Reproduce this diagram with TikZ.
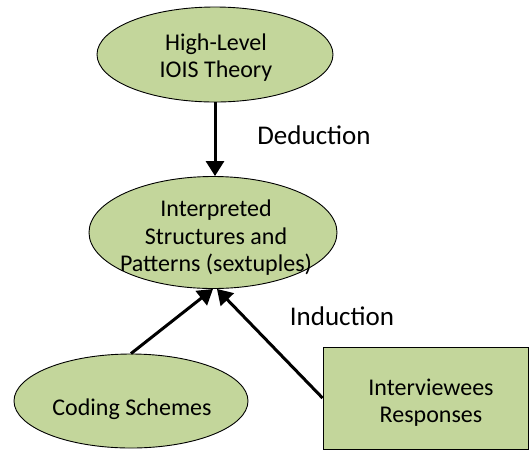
\documentclass[tikz,border=0pt]{standalone}
\usepackage{fontspec}
\setmainfont{Carlito}
\usetikzlibrary{shapes.geometric,arrows.meta}
\definecolor{leaf}{HTML}{C3D69B}
\tikzset{
  ell/.style={ellipse, draw=black, line width=0.9pt, fill=leaf, inner sep=0pt},
  boxnode/.style={rectangle, draw=black, line width=0.9pt, fill=leaf, inner sep=0pt},
  txt/.style={align=center, inner sep=0pt, font=\fontsize{24}{27.5}\selectfont},
  lab/.style={inner sep=0pt, font=\fontsize{27}{31}\selectfont},
  arr/.style={line width=3pt, -{Triangle[width=18pt,length=15pt]}}
}
\begin{document}
\begin{tikzpicture}[x=1pt,y=-1pt]
\useasboundingbox (0,0) rectangle (529,451);
\node[ell, minimum width=236pt, minimum height=95pt] (top) at (215,54.5) {};
\node[ell, minimum width=248pt, minimum height=112pt] (mid) at (213,232.5) {};
\node[ell, minimum width=234pt, minimum height=94pt] (cs) at (131,401) {};
\node[boxnode, minimum width=205pt, minimum height=102pt] (iv) at (425.5,398) {};
\node[txt] (toptxt) at (216,57.5) {High-Level\\IOIS Theory};
\node[txt] (midtxt) at (216,238) {Interpreted\\Structures and\\Patterns (sextuples)};
\node[txt] (cstxt) at (132,409.5) {Coding Schemes};
\node[txt] (ivtxt) at (431,402.5) {Interviewees\\Responses};
\node[lab, anchor=base] (ded) at (314,144) {Deduction};
\node[lab, anchor=base] (ind) at (342,325.5) {Induction};
\draw[arr] (top.south) -- (top.south |- mid.north);
\draw[arr] (cs.north) -- (mid.south);
\draw[arr] (iv.west) -- (mid.-86);
\end{tikzpicture}
\end{document}
